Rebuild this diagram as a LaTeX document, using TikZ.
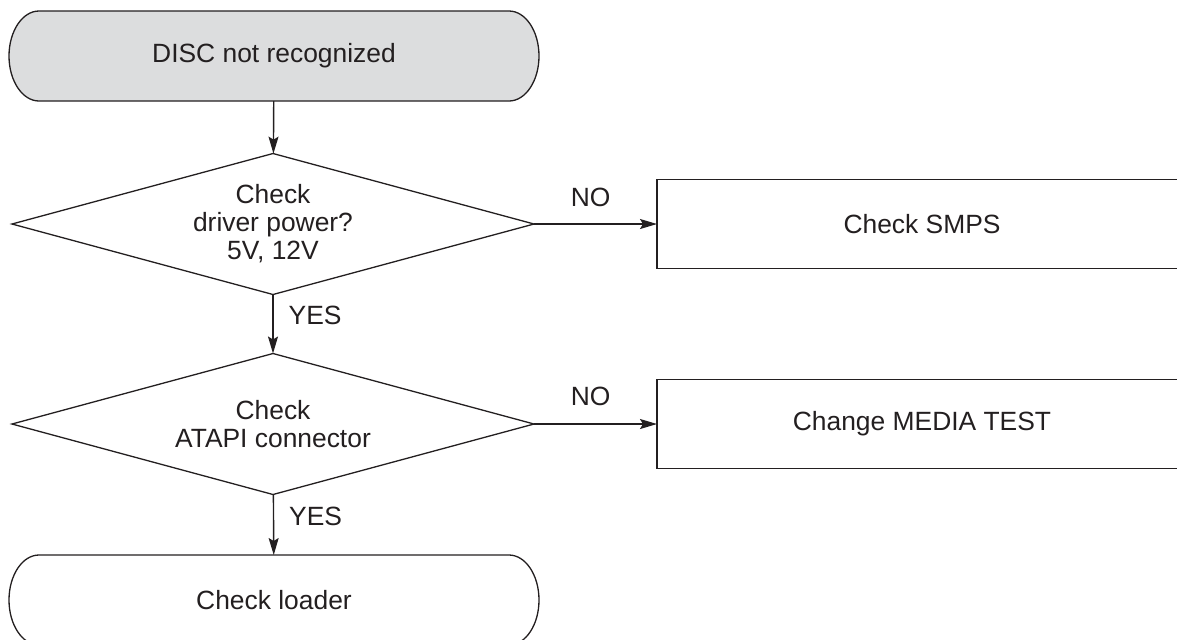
\documentclass[tikz,border=0pt]{standalone}
\usepackage{fontspec}
\setmainfont{Liberation Sans}
\usetikzlibrary{arrows.meta, shapes.geometric, backgrounds}
\definecolor{termgray}{RGB}{220,221,222}
\definecolor{ink}{RGB}{35,31,32}

\tikzset{
  every node/.style={font=\fontsize{13.2}{14}\selectfont, text=ink},
  flow/.style={draw=ink, line width=0.7pt, -{Stealth[length=8.5pt,width=5pt,inset=1.5pt]}},
  outline/.style={draw=ink, line width=0.65pt},
  decision/.style={diamond, outline, inner sep=0pt, outer sep=0pt, shape aspect=3.7,
    minimum width=261pt, minimum height=70.5pt, align=center},
  procbox/.style={rectangle, outline, outer sep=0pt, minimum width=265pt, minimum height=44.5pt},
  terminal/.style={outer sep=0pt, minimum width=265pt, minimum height=45pt},
  answer/.style={inner sep=0pt},
}

\begin{document}
\begin{tikzpicture}[x=0.5pt, y=-0.5pt]
    \path[use as bounding box, clip] (0,0) rectangle (1177,639);

    %% start and end
    \node[terminal] (disc) at (274,56) {DISC not recognized};
    \node[terminal] (loader) at (274,600) {Check loader};

    %% questions
    \node[decision] (power) at (273,224) {Check\\driver power?\\5V, 12V};
    \node[decision] (atapi) at (273,424) {Check\\ATAPI connector};

    %% actions
    \node[procbox] (smps) at (922,224) {Check SMPS};
    \node[procbox] (media) at (922,424) {Change MEDIA TEST};

    %% terminal outlines
    \begin{scope}[on background layer]
      \draw[outline, fill=termgray] ([xshift=15pt]disc.north west) -- ([xshift=-15pt]disc.north east)
        arc[start angle=90, end angle=-90, x radius=15pt, y radius=22.5pt]
        -- ([xshift=15pt]disc.south west)
        arc[start angle=270, end angle=90, x radius=15pt, y radius=22.5pt] -- cycle;
      \draw[outline] ([xshift=15pt]loader.north west) -- ([xshift=-15pt]loader.north east)
        arc[start angle=90, end angle=-90, x radius=15pt, y radius=22.5pt]
        -- ([xshift=15pt]loader.south west)
        arc[start angle=270, end angle=90, x radius=15pt, y radius=22.5pt] -- cycle;
    \end{scope}

    %% connectors
    \draw[flow] (disc) -- (power);
    \draw[flow] (power) -- node[answer, pos=0.36, right=7.5pt]{YES} (atapi);
    \draw[flow] (atapi) -- node[answer, pos=0.36, right=7.5pt]{YES} (loader);
    \draw[flow] (power.east) -- node[answer, pos=0.46, above=8.5pt]{NO} (smps.west);
    \draw[flow] (atapi.east) -- node[answer, pos=0.46, above=9pt]{NO} (media.west);

\end{tikzpicture}
\end{document}
